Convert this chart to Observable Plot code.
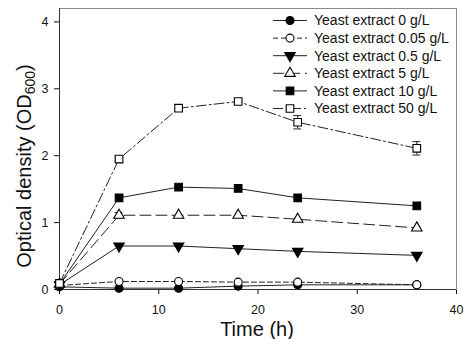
<!DOCTYPE html>
<html>
<head>
<meta charset="utf-8">
<script src="https://cdn.jsdelivr.net/npm/d3@7"></script>
<script src="https://cdn.jsdelivr.net/npm/@observablehq/plot@0.6"></script>
<style>
  html, body { margin: 0; padding: 0; background: #fff; }
  #chart svg { display: block; font-family: "Liberation Sans", Arial, sans-serif; }
</style>
</head>
<body>
<div id="chart"></div>
<script>
// ---- data ----
const times = [0, 6, 12, 18, 24, 36];
const seriesNames = [
  "Yeast extract 0 g/L",
  "Yeast extract 0.05 g/L",
  "Yeast extract 0.5 g/L",
  "Yeast extract 5 g/L",
  "Yeast extract 10 g/L",
  "Yeast extract 50 g/L"
];
const od0    = [0.04, 0.02, 0.02, 0.05, 0.07, 0.07];
const od005  = [0.06, 0.12, 0.12, 0.11, 0.11, 0.07];
const od05   = [0.07, 0.65, 0.65, 0.61, 0.57, 0.51];
const od5    = [0.08, 1.11, 1.11, 1.11, 1.05, 0.92];
const od10   = [0.08, 1.37, 1.53, 1.51, 1.37, 1.25];
const od50   = [0.09, 1.95, 2.71, 2.81, 2.50, 2.11];
const err0   = [0, 0, 0, 0, 0, 0];
const err005 = [0, 0, 0, 0, 0, 0];
const err05  = [0, 0, 0, 0, 0, 0];
const err5   = [0, 0.04, 0, 0, 0, 0];
const err10  = [0, 0, 0, 0, 0, 0];
const err50  = [0, 0.03, 0, 0, 0.1, 0.1];
const xTicks = [0, 10, 20, 30, 40];
const yTicks = [0, 1, 2, 3, 4];

// ---- styles ----
const downTriangle = {
  draw(context, size) {
    const y = -Math.sqrt(size / (Math.sqrt(3) * 3));
    context.moveTo(0, -y * 2);
    context.lineTo(-Math.sqrt(3) * y, y);
    context.lineTo(Math.sqrt(3) * y, y);
    context.closePath();
  }
};
const styles = [
  {values: od0,   err: err0,   symbol: "circle",   fill: "black", r: 4,   dash: null},
  {values: od005, err: err005, symbol: "circle",   fill: "white", r: 4,   dash: "5,3"},
  {values: od05,  err: err05,  symbol: downTriangle, fill: "black", r: 3.9, dash: null},
  {values: od5,   err: err5,   symbol: "triangle", fill: "white", r: 3.9, dash: "11,5"},
  {values: od10,  err: err10,  symbol: "square",   fill: "black", r: 4.3, dash: null},
  {values: od50,  err: err50,  symbol: "square",   fill: "white", r: 4.3, dash: "10,3,2,3"}
];

const marks = [
  Plot.frame({stroke: "#8a8a8a"}),
  Plot.ruleX([0], {stroke: "#333"}),
  Plot.ruleY([0], {stroke: "#333"})
];
styles.forEach((s, i) => {
  const rows = times.map((t, j) => ({t, v: s.values[j], e: s.err[j], name: seriesNames[i]}));
  const eb = rows.filter(d => d.e > 0);
  marks.push(Plot.line(rows, {x: "t", y: "v", stroke: "#222", strokeWidth: 1, strokeDasharray: s.dash}));
  marks.push(Plot.ruleX(eb, {x: "t", y1: d => d.v - d.e, y2: d => d.v + d.e, stroke: "#222"}));
  marks.push(Plot.ruleY(eb, {y: d => d.v + d.e, x1: d => d.t - 0.4, x2: d => d.t + 0.4, stroke: "#222"}));
  marks.push(Plot.ruleY(eb, {y: d => d.v - d.e, x1: d => d.t - 0.4, x2: d => d.t + 0.4, stroke: "#222"}));
  marks.push(Plot.dot(rows, {x: "t", y: "v", symbol: () => s.symbol, r: s.r, fill: s.fill, stroke: "black", strokeWidth: 1.1}));
});

const chart = Plot.plot({
  width: 466,
  height: 339,
  marginLeft: 59,
  marginRight: 10,
  marginTop: 8,
  marginBottom: 50,
  style: {fontFamily: "'Liberation Sans', Arial, sans-serif", fontSize: "12px", color: "#111", background: "white"},
  symbol: {type: "identity"},
  x: {domain: [0, 40], ticks: xTicks, tickFormat: d => String(d), tickSize: 5, tickPadding: 11, label: null},
  y: {domain: [0, 4.2], ticks: yTicks, tickFormat: d => String(d), tickSize: 5, tickPadding: 6, label: null},
  marks
});
document.getElementById("chart").appendChild(chart);

// ---- axis titles and legend ----
const svg = d3.select(chart);
svg.selectAll("[aria-label='x-axis tick label'] text, [aria-label='y-axis tick label'] text").attr("font-size", 12.5);

svg.append("text")
  .attr("x", 257).attr("y", 336)
  .attr("text-anchor", "middle")
  .attr("font-size", 20)
  .attr("fill", "#111")
  .text("Time (h)");

const yl = svg.append("text")
  .attr("transform", "translate(31,166) rotate(-90)")
  .attr("text-anchor", "middle")
  .attr("font-size", 20)
  .attr("fill", "#111");
yl.append("tspan").text("Optical density (OD");
yl.append("tspan").attr("font-size", 14).attr("dy", 4).text("600");
yl.append("tspan").attr("dy", -4).text(")");

const lg = svg.append("g").attr("font-size", 14).attr("fill", "#111").attr("text-anchor", "start");
styles.forEach((s, i) => {
  const y = 20.5 + i * 17.6;
  const g = lg.append("g").attr("transform", `translate(0,${y})`);
  const ln = g.append("line").attr("x1", 273).attr("x2", 307).attr("y1", 0).attr("y2", 0)
    .attr("stroke", "#222").attr("stroke-width", 1);
  if (s.dash) ln.attr("stroke-dasharray", s.dash);
  const symType = typeof s.symbol === "string"
    ? {circle: d3.symbolCircle, triangle: d3.symbolTriangle, square: d3.symbolSquare}[s.symbol]
    : s.symbol;
  g.append("path").attr("transform", "translate(290,0)")
    .attr("d", d3.symbol(symType, Math.PI * s.r * s.r)())
    .attr("fill", s.fill).attr("stroke", "black").attr("stroke-width", 1.1);
  g.append("text").attr("x", 314).attr("y", 0).attr("dy", "0.35em").text(seriesNames[i]);
});
</script>
</body>
</html>
